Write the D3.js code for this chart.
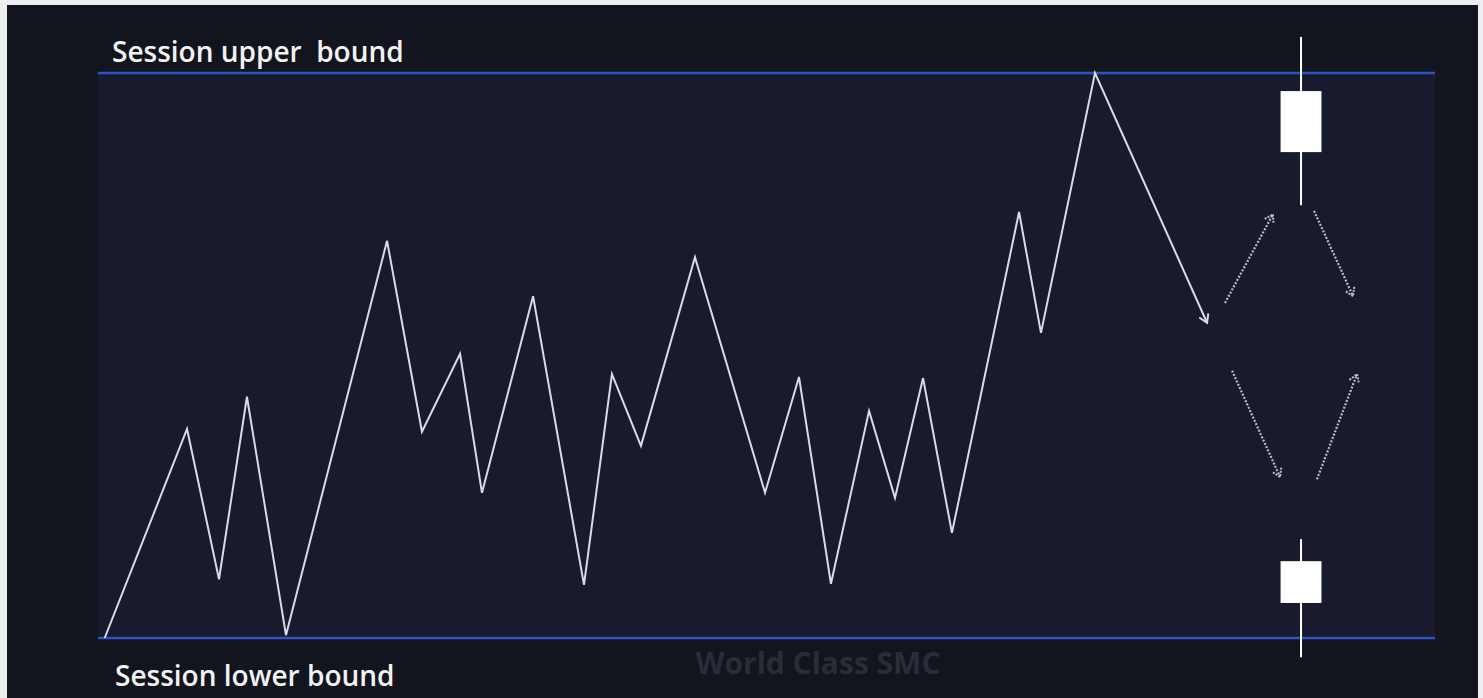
<!DOCTYPE html>
<html>
<head>
<meta charset="utf-8">
<script src="https://cdn.jsdelivr.net/npm/d3@7"></script>
<style>
  html, body { margin: 0; padding: 0; background: #eeeeee; }
  svg { display: block; }
</style>
</head>
<body>
<svg id="chart" width="1483" height="698"></svg>
<script>
// ---- data (session range in % : lower bound = 0, upper bound = 100; time in % of session) ----
const pathTime  = [0.5, 6.66, 9.05, 11.14, 14.06, 21.62, 24.23, 27.08, 28.72, 32.54, 36.35, 38.44, 40.61, 44.65, 49.89, 52.43, 54.82, 57.67, 59.61, 61.71, 63.87, 68.89, 70.53, 74.57, 82.95];
const pathPrice = [0, 37.0, 10.4, 42.7, 0.5, 70.3, 36.5, 50.3, 25.7, 60.5, 9.4, 46.7, 34.0, 67.4, 25.7, 46.2, 9.6, 40.2, 24.8, 46.0, 18.6, 75.4, 54.0, 100, 55.8];

const boundNames  = ["Session upper  bound", "Session lower bound"];
const boundValues = [100, 0];

const candleTime  = [89.98, 89.98];
const candleHigh  = [106.4, 17.5];
const candleOpen  = [86.0, 6.2];
const candleClose = [96.8, 13.6];
const candleLow   = [76.6, -3.4];
const candleHalfWidth = 1.53;

const scenarioX0 = [84.29, 90.95, 84.82, 91.17];
const scenarioY0 = [59.3, 75.6, 47.3, 28.1];
const scenarioX1 = [87.88, 93.87, 88.41, 94.17];
const scenarioY1 = [75.0, 60.5, 28.5, 46.7];

const watermark = "World Class SMC";

// ---- drawing ----
const svg = d3.select("#chart");
const x = d3.scaleLinear().domain([0, 100]).range([98, 1435]);
const y = d3.scaleLinear().domain([0, 100]).range([638, 73]);

// frame backgrounds
svg.append("rect").attr("x", 7).attr("y", 5).attr("width", 1471).attr("height", 693).attr("fill", "#12151e");
svg.append("rect").attr("x", x(0)).attr("y", y(100)).attr("width", x(100) - x(0)).attr("height", y(0) - y(100)).attr("fill", "#171b2d");

// markers
const defs = svg.append("defs");
defs.append("marker").attr("id", "arrSolid").attr("viewBox", "0 0 12 12").attr("refX", 10).attr("refY", 6)
  .attr("markerWidth", 12).attr("markerHeight", 12).attr("markerUnits", "userSpaceOnUse").attr("orient", "auto")
  .append("path").attr("d", "M2,1 L10,6 L2,11").attr("fill", "none").attr("stroke", "#d9dce4").attr("stroke-width", 2);
defs.append("marker").attr("id", "arrDot").attr("viewBox", "0 0 12 12").attr("refX", 10).attr("refY", 6)
  .attr("markerWidth", 12).attr("markerHeight", 12).attr("markerUnits", "userSpaceOnUse").attr("orient", "auto")
  .append("path").attr("d", "M2,1 L10,6 L2,11").attr("fill", "none").attr("stroke", "#b8bcc8").attr("stroke-width", 2).attr("stroke-dasharray", "2,1.2");

// bound lines
svg.selectAll("line.bound").data(boundValues).join("line").attr("class", "bound")
  .attr("x1", x(0)).attr("x2", x(100)).attr("y1", d => y(d)).attr("y2", d => y(d))
  .attr("stroke", "#2c54c6").attr("stroke-width", 2.5);

// bound labels
svg.append("text").text(boundNames[0]).attr("x", 112).attr("y", y(boundValues[0]) - 11)
  .attr("fill", "#f2f2f2").attr("font-family", "Open Sans").attr("font-weight", 600).attr("font-size", 28)
  .attr("style", "white-space: pre");
svg.append("text").text(boundNames[1]).attr("x", 115).attr("y", y(boundValues[1]) + 48)
  .attr("fill", "#f2f2f2").attr("font-family", "Open Sans").attr("font-weight", 600).attr("font-size", 28);

// watermark
svg.append("text").text(watermark).attr("x", 818).attr("y", 674).attr("text-anchor", "middle")
  .attr("fill", "#2a2d38").attr("font-family", "Open Sans").attr("font-weight", 700).attr("font-size", 30);

// price path
const pts = pathTime.map((t, i) => [x(t), y(pathPrice[i])]);
svg.append("path").attr("d", d3.line()(pts)).attr("fill", "none")
  .attr("stroke", "#d9dce4").attr("stroke-width", 2).attr("stroke-linejoin", "miter")
  .attr("marker-end", "url(#arrSolid)");

// scenario arrows
svg.selectAll("line.scen").data(scenarioX0).join("line").attr("class", "scen")
  .attr("x1", (d, i) => x(d)).attr("y1", (d, i) => y(scenarioY0[i]))
  .attr("x2", (d, i) => x(scenarioX1[i])).attr("y2", (d, i) => y(scenarioY1[i]))
  .attr("stroke", "#b8bcc8").attr("stroke-width", 2.2).attr("stroke-dasharray", "2,1.6")
  .attr("marker-end", "url(#arrDot)");

// candles
const cIdx = d3.range(candleTime.length);
svg.selectAll("line.wick").data(cIdx).join("line").attr("class", "wick")
  .attr("x1", i => x(candleTime[i])).attr("x2", i => x(candleTime[i]))
  .attr("y1", i => y(candleHigh[i])).attr("y2", i => y(candleLow[i]))
  .attr("stroke", "#ffffff").attr("stroke-width", 2);
svg.selectAll("rect.body").data(cIdx).join("rect").attr("class", "body")
  .attr("x", i => x(candleTime[i] - candleHalfWidth))
  .attr("width", i => x(candleTime[i] + candleHalfWidth) - x(candleTime[i] - candleHalfWidth))
  .attr("y", i => y(Math.max(candleOpen[i], candleClose[i])))
  .attr("height", i => Math.abs(y(candleOpen[i]) - y(candleClose[i])))
  .attr("fill", "#ffffff");
</script>
</body>
</html>
